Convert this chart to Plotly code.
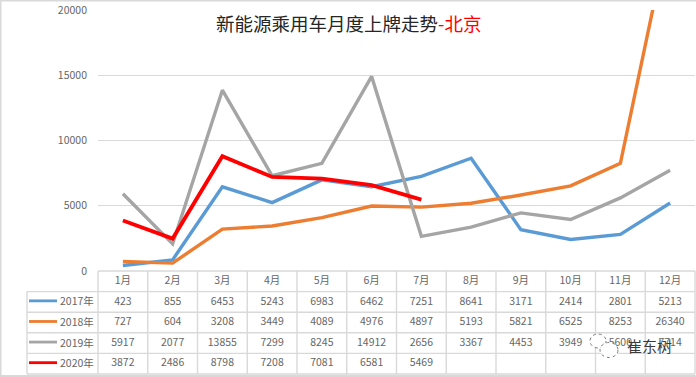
import plotly.graph_objects as go

months = ["1月","2月","3月","4月","5月","6月","7月","8月","9月","10月","11月","12月"]
y2017 = [423,855,6453,5243,6983,6462,7251,8641,3171,2414,2801,5213]
y2018 = [727,604,3208,3449,4089,4976,4897,5193,5821,6525,8253,26340]
y2019 = [5917,2077,13855,7299,8245,14912,2656,3367,4453,3949,5600,7714]
y2020 = [3872,2486,8798,7208,7081,6581,5469]
names = ["2017年","2018年","2019年","2020年"]
colors = ["#5B9BD5","#ED7D31","#A5A5A5","#FF0000"]
series = [y2017,y2018,y2019,y2020]
yticks = [0,5000,10000,15000,20000]

W,H = 696,377
FONT = "Noto Sans CJK SC"
GREY = "#666666"
LINE = "#D9D9D9"
def px(x): return x/W
def py(y): return 1-y/H

fig = go.Figure()
for n,c,s in zip(names,colors,series):
    fig.add_trace(go.Scatter(x=list(range(len(s))),y=s,mode="lines",name=n,
        line=dict(color=c,width=3.8 if c=="#FF0000" else 3.4),hoverinfo="skip"))

# table text, row 0 = header
for col,m in enumerate(months):
    fig.add_trace(go.Scatter(x=[col],y=[0.5],xaxis="x",yaxis="y2",mode="text",text=[m],
        textfont=dict(size=10.5,color=GREY,family=FONT),cliponaxis=False,showlegend=False,hoverinfo="skip"))
for r,s in enumerate(series):
    fig.add_trace(go.Scatter(x=list(range(len(s))),y=[r+1.5]*len(s),xaxis="x",yaxis="y2",mode="text",
        text=[str(v) for v in s],textfont=dict(size=10.5,color=GREY,family=FONT),cliponaxis=False,showlegend=False,hoverinfo="skip"))

L = 98; R = 695; LL = 27; T = 271; B = 374
rowh = (B-T)/5; colw = (R-L)/12
shapes=[]
def seg(x0,y0,x1,y1,color=LINE,width=1.4):
    shapes.append(dict(type="line",xref="paper",yref="paper",x0=px(x0),x1=px(x1),y0=py(y0),y1=py(y1),line=dict(color=color,width=width)))
for i in range(6):
    seg(L if i==0 else LL,T+i*rowh,R,T+i*rowh)
for j in range(13):
    seg(L+j*colw,T,L+j*colw,B)
seg(LL,T+rowh,LL,B)
for r,c in enumerate(colors):
    seg(29,T+(r+1.45)*rowh,57,T+(r+1.45)*rowh,color=c,width=2.8)
# picture frame
seg(0,0.5,W,0.5,width=2)
seg(0,376,W,376,width=2)
seg(0.5,0,0.5,H,width=2)
# watermark icon
for cx,cy,rx,ry in [(598,341,8,7),(609,350,9,7.5)]:
    shapes.append(dict(type="circle",xref="paper",yref="paper",x0=px(cx-rx),x1=px(cx+rx),y0=py(cy-ry),y1=py(cy+ry),
        fillcolor="white",line=dict(color="#7A7A7A",width=1,dash="dot")))

ann=[dict(xref="paper",yref="paper",x=px(348),y=py(23),showarrow=False,xanchor="center",yanchor="middle",
     text='新能源乘用车月度上牌走势<span style="color:#FF0000">-北京</span>',
     font=dict(size=18.5,color="#262626",family=FONT))]
for r,n in enumerate(names):
    ann.append(dict(xref="paper",yref="paper",x=px(58),y=py(T+(r+1.45)*rowh),xanchor="left",yanchor="middle",showarrow=False,
        text=n,font=dict(size=10.5,color=GREY,family=FONT)))
ann.append(dict(xref="paper",yref="paper",x=px(649),y=py(345),xanchor="center",yanchor="middle",showarrow=False,
    text="崔东树",font=dict(size=15,color="#3A3A3A",family=FONT)))

fig.update_layout(
    width=W,height=H,margin=dict(l=0,r=0,t=0,b=0,autoexpand=False),paper_bgcolor="white",plot_bgcolor="white",showlegend=False,
    xaxis=dict(domain=[px(L),px(R)],range=[-0.5,11.5],visible=False,fixedrange=True),
    yaxis=dict(domain=[py(T),py(10)],range=[0,20000],tickvals=yticks,tickformat="d",showgrid=True,gridcolor=LINE,gridwidth=1.2,
        zeroline=False,showline=False,ticks="",tickfont=dict(size=10.5,color=GREY,family=FONT),ticklabelstandoff=10,fixedrange=True),
    yaxis2=dict(domain=[py(B),py(T)],range=[5,0],visible=False,anchor="free",position=0,fixedrange=True),
    shapes=shapes,annotations=ann)
fig.write_html("out.html",config=dict(displayModeBar=False),
    post_script="document.body.style.margin='0';document.documentElement.style.overflow='hidden';")
